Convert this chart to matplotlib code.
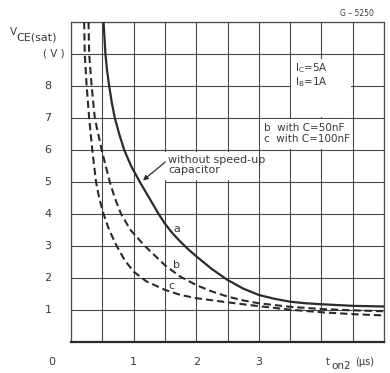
import numpy as np
import matplotlib
matplotlib.use("Agg")
import matplotlib.pyplot as plt
from matplotlib.patches import Rectangle

# ---- data ----
t_a = [0.52, 0.535, 0.55, 0.575, 0.61, 0.65, 0.70, 0.77, 0.85, 0.96, 1.10, 1.25, 1.40,
       1.50, 1.62, 1.74, 1.86, 2.0, 2.25, 2.5, 2.75, 3.0, 3.25, 3.5, 3.75, 4.0, 4.5, 5.0]
v_a = [10.0, 9.5, 9.0, 8.5, 8.0, 7.5, 7.0, 6.5, 6.0, 5.5, 5.0, 4.5, 4.0,
       3.7, 3.4, 3.15, 2.92, 2.68, 2.28, 1.94, 1.67, 1.47, 1.35, 1.26, 1.21, 1.18, 1.13, 1.11]

t_b = [0.28, 0.29, 0.33, 0.38, 0.49, 0.62, 0.70, 0.80, 0.95, 1.18, 1.5, 1.74, 2.0,
       2.25, 2.5, 2.75, 3.0, 3.5, 4.0, 4.5, 5.0]
v_b = [10.0, 9.0, 8.0, 7.0, 6.0, 5.0, 4.5, 4.0, 3.5, 3.0, 2.4, 2.05, 1.78,
       1.58, 1.42, 1.3, 1.21, 1.1, 1.03, 0.99, 0.96]

t_c = [0.21, 0.22, 0.25, 0.29, 0.34, 0.40, 0.45, 0.52, 0.61, 0.73, 0.86, 1.0, 1.2,
       1.5, 1.75, 2.0, 2.5, 3.0, 3.5, 4.0, 4.5, 5.0]
v_c = [10.0, 9.0, 8.0, 7.0, 6.0, 5.0, 4.5, 4.0, 3.5, 3.0, 2.55, 2.2, 1.9,
       1.63, 1.47, 1.37, 1.24, 1.12, 1.01, 0.93, 0.87, 0.83]

x_ticklabels = ['1', '2', '3']
x_tickpos = [1, 2, 3]
y_ticklabels = ['1', '2', '3', '4', '5', '6', '7', '8']
y_tickpos = [1, 2, 3, 4, 5, 6, 7, 8]

INK = '#2b2b2b'
GRID = '#4a4a4a'
TXT = '#3a3a3a'

fig = plt.figure(figsize=(3.9, 3.73), dpi=100)
fig.patch.set_facecolor('white')
W, H = 390.0, 373.0
ax = fig.add_axes([71 / W, 31 / H, 313 / W, 320 / H])
ax.set_xlim(0, 5)
ax.set_ylim(0, 10)

# grid
ax.set_xticks(np.arange(0, 5.01, 0.5))
ax.set_yticks(np.arange(0, 10.01, 1))
ax.set_xticklabels([])
ax.set_yticklabels([])
ax.tick_params(length=0)
ax.grid(True, color=GRID, lw=0.8, zorder=0)
ax.set_axisbelow(True)
for s in ax.spines.values():
    s.set_color(GRID)
    s.set_linewidth(0.9)
ax.spines['bottom'].set_linewidth(1.6)
ax.spines['bottom'].set_color(INK)

# tick labels as text
for p, lab in zip(x_tickpos, x_ticklabels):
    ax.text(p, -0.62, lab, ha='center', va='center', fontsize=8, color=TXT)
for p, lab in zip(y_tickpos, y_ticklabels):
    ax.text(-0.37, p, lab, ha='center', va='center', fontsize=8, color=TXT)
fig.text(52 / W, 1 - 362 / H, '0', ha='center', va='center', fontsize=8, color=TXT)

# axis titles
fig.text(10 / W, 1 - 32 / H, 'V', ha='left', va='center', fontsize=7.5, color=TXT)
fig.text(16 / W, 1 - 37 / H, 'CE(sat)', ha='left', va='center', fontsize=8, color=TXT)
fig.text(65 / W, 1 - 53 / H, '( V )', ha='right', va='center', fontsize=7.5, color=TXT)
fig.text(326 / W, 1 - 362 / H, 't', ha='left', va='center', fontsize=7, color=TXT)
fig.text(331 / W, 1 - 366 / H, 'on2', ha='left', va='center', fontsize=7.5, color=TXT)
fig.text(355 / W, 1 - 362 / H, '(μs)', ha='left', va='center', fontsize=7, color=TXT)
fig.text(357 / W, 1 - 13 / H, 'G \u2013 5250', ha='center', va='center', fontsize=5.5, color=TXT)

# white boxes that mask the grid behind the texts
for (x0, y0, w, h) in [(1.25, 5.06, 1.72, 0.89), (1.03, 4.94, 0.47, 0.2),
                       (3.52, 7.03, 0.96, 1.82), (3.02, 6.03, 1.45, 0.94)]:
    ax.add_patch(Rectangle((x0, y0), w, h, facecolor='white', edgecolor='none', zorder=1))

# curves
ax.plot(t_a, v_a, color=INK, lw=1.6, zorder=3, solid_joinstyle='round')
ax.plot(t_b, v_b, color=INK, lw=1.5, ls=(0, (3.5, 1.9)), zorder=3)
ax.plot(t_c, v_c, color=INK, lw=1.5, ls=(0, (3.5, 1.9)), zorder=3)

# curve labels
ax.text(1.69, 3.52, 'a', ha='center', va='center', fontsize=8, color=TXT, zorder=4)
ax.text(1.69, 2.41, 'b', ha='center', va='center', fontsize=8, color=TXT, zorder=4)
ax.text(1.61, 1.75, 'c', ha='center', va='center', fontsize=8, color=TXT, zorder=4)

# annotations
ax.annotate('without speed-up\ncapacitor', xy=(1.15, 5.05), xytext=(1.55, 5.54),
            ha='left', va='center', fontsize=8, color=TXT, linespacing=1.0, zorder=4,
            arrowprops=dict(arrowstyle='-|>', color=INK, lw=0.9, mutation_scale=7,
                            shrinkA=0, shrinkB=0,
                            relpos=(0.0, 0.75)))
ax.text(3.58, 8.56, r'$\mathregular{I_C}$=5A', ha='left', va='center', fontsize=7.5, color=TXT, zorder=4)
ax.text(3.58, 8.12, r'$\mathregular{I_B}$=1A', ha='left', va='center', fontsize=7.5, color=TXT, zorder=4)
ax.text(3.08, 6.69, 'b  with C=50nF', ha='left', va='center', fontsize=7.5, color=TXT, zorder=4)
ax.text(3.08, 6.34, 'c  with C=100nF', ha='left', va='center', fontsize=7.5, color=TXT, zorder=4)

fig.savefig('out.png', dpi=100, facecolor='white')
